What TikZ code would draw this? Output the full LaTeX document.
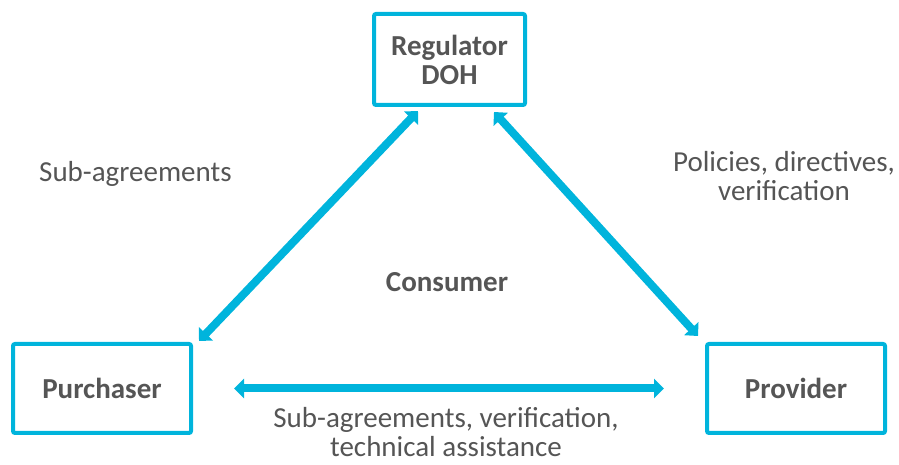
\documentclass[tikz,border=0pt]{standalone}
\usepackage{fontspec}
\setmainfont{Carlito}
\usetikzlibrary{arrows.meta, positioning, calc}
\definecolor{linkblue}{RGB}{0,180,220}
\definecolor{labelgray}{RGB}{85,85,85}

\begin{document}
\begin{tikzpicture}[x=1pt, y=1pt,
    party/.style={rectangle, draw=linkblue, line width=4pt, rounded corners=2pt, text=labelgray, font=\fontsize{29}{29}\selectfont\bfseries, align=center, minimum width=178pt, minimum height=89pt},
    flow/.style={draw=linkblue, line width=8pt, {Triangle[width=19pt,length=10pt]}-{Triangle[width=19pt,length=10pt]}},
    note/.style={text=labelgray, font=\fontsize{29}{29}\selectfont, align=center, inner sep=0pt}]
    \useasboundingbox (0,0) rectangle (899,465);

    % Nodes
    \node [party, minimum width=151pt, minimum height=91pt] (reg) at (449.5,405.5) {Regulator\\DOH};
    \node [party] (pur) at (102,76.5) {Purchaser};
    \node [party] (pro) at (796,76.5) {Provider};

    % Labels (base sits on the last line)
    \node [note, anchor=base west] (subleft) at (39,283) {Sub-agreements};
    \node [note, anchor=base] (policy) at (784,264) {Policies, directives,\\verification};
    \node [note, anchor=base, font=\fontsize{29}{29}\selectfont\bfseries] (consumer) at (447,173) {Consumer};
    \node [note, anchor=base] (subbottom) at (446,8) {Sub-agreements, verification,\\technical assistance};

    % Edges
    \draw [flow] ($(pur.north east)+(6,1)$) -- ($(reg.south west)+(46,-4)$);
    \draw [flow] ($(reg.south east)+(-33,-5)$) -- ($(pro.north west)+(-7,6)$);
    \draw [flow, shorten <=41pt, shorten >=41pt] (pur) -- (pro);
\end{tikzpicture}
\end{document}
